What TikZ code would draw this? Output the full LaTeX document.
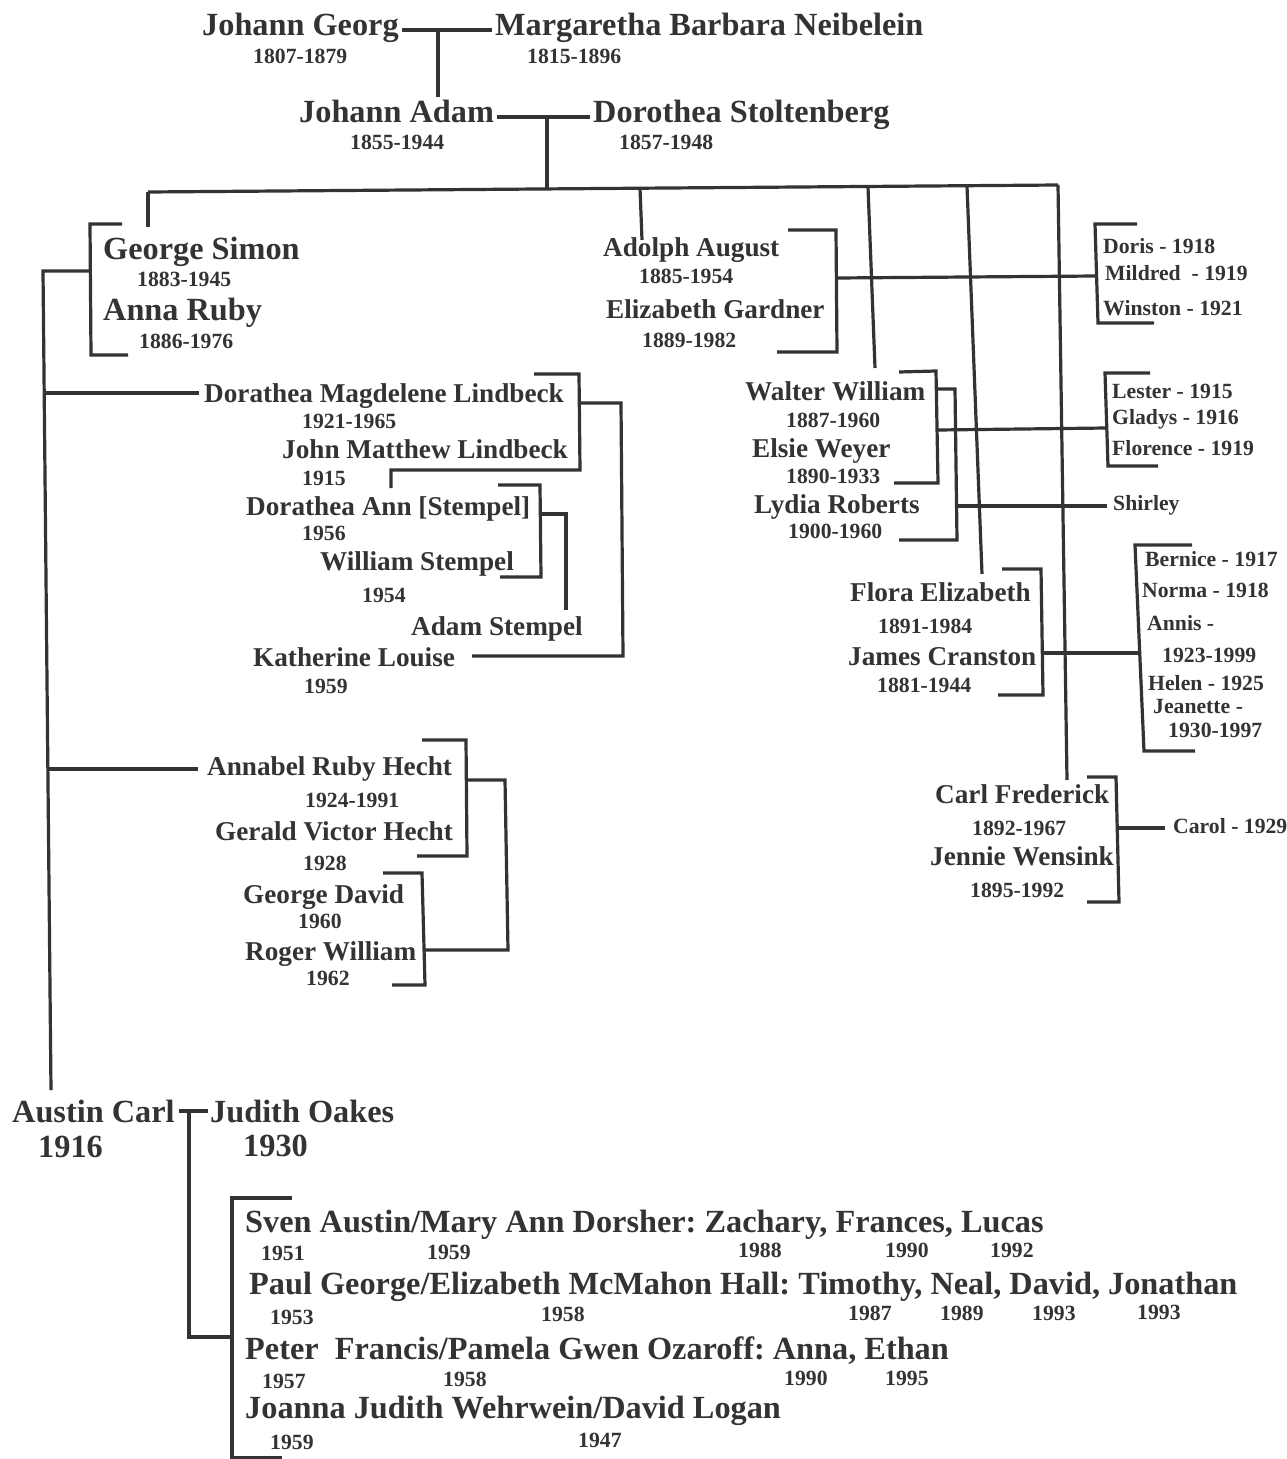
\documentclass[tikz,border=0pt]{standalone}
\usepackage{fontspec}
\setmainfont{Liberation Serif}
\frenchspacing
\definecolor{ink}{HTML}{333333}
\tikzset{
  nm/.style={font=\bfseries\fontsize{32.3}{38}\selectfont, anchor=base west, inner sep=0pt, text=ink},
  md/.style={font=\bfseries\fontsize{27.2}{32}\selectfont, anchor=base west, inner sep=0pt, text=ink},
  sm/.style={font=\bfseries\fontsize{21.7}{26}\selectfont, anchor=base west, inner sep=0pt, text=ink},
  ln/.style={draw=ink, line width=3.2pt, line join=miter}
}
\begin{document}
\begin{tikzpicture}[x=1pt,y=-1pt]
\useasboundingbox (0,0) rectangle (1287,1459);
\fill[white] (0,0) rectangle (1287,1459);

% ---------- generation 1 and 2 ----------
\node[nm] (jg) at (202,35) {Johann Georg};
\node[sm] (jgd) at (253,63) {1807-1879};
\node[nm] (mbn) at (495,35) {Margaretha Barbara Neibelein};
\node[sm] (mbnd) at (527,63) {1815-1896};
\node[nm] (ja) at (299,122) {Johann Adam};
\node[sm] (jad) at (350,149) {1855-1944};
\node[nm] (ds) at (593,122) {Dorothea Stoltenberg};
\node[sm] (dsd) at (619,149) {1857-1948};

% ---------- generation 3 ----------
\node[nm] (gs) at (103,259) {George Simon};
\node[sm] (gsd) at (137,286) {1883-1945};
\node[nm] (ar) at (103,320) {Anna Ruby};
\node[sm] (ard) at (139,348) {1886-1976};

\node[md] (aa) at (603,256) {Adolph August};
\node[sm] (aad) at (639,283) {1885-1954};
\node[md] (eg) at (606,318) {Elizabeth Gardner};
\node[sm] (egd) at (642,347) {1889-1982};
\node[sm] (doris) at (1103,253) {Doris - 1918};
\node[sm] (mildred) at (1105,280) {Mildred~~- 1919};
\node[sm] (winston) at (1103,315) {Winston - 1921};

\node[md] (ww) at (745,400) {Walter William};
\node[sm] (wwd) at (786,427) {1887-1960};
\node[md] (ew) at (752,457) {Elsie Weyer};
\node[sm] (ewd) at (786,483) {1890-1933};
\node[md] (lr) at (754,513) {Lydia Roberts};
\node[sm] (lrd) at (788,538) {1900-1960};
\node[sm] (lester) at (1112,398) {Lester - 1915};
\node[sm] (gladys) at (1112,424) {Gladys - 1916};
\node[sm] (florence) at (1112,455) {Florence - 1919};
\node[sm] (shirley) at (1113,510) {Shirley};

\node[md] (fe) at (850,601) {Flora Elizabeth};
\node[sm] (fed) at (878,633) {1891-1984};
\node[md] (jc) at (848,665) {James Cranston};
\node[sm] (jcd) at (877,692) {1881-1944};
\node[sm] (bernice) at (1145,566) {Bernice - 1917};
\node[sm] (norma) at (1142,597) {Norma - 1918};
\node[sm] (annis) at (1147,630) {Annis -};
\node[sm] (annisd) at (1162,662) {1923-1999};
\node[sm] (helen) at (1148,690) {Helen - 1925};
\node[sm] (jeanette) at (1153,713) {Jeanette -};
\node[sm] (jeanetted) at (1168,737) {1930-1997};

\node[md] (cf) at (935,803) {Carl Frederick};
\node[sm] (cfd) at (972,835) {1892-1967};
\node[md] (jw) at (930,865) {Jennie Wensink};
\node[sm] (jwd) at (970,897) {1895-1992};
\node[sm] (carol) at (1173,833) {Carol - 1929};

% ---------- George Simon's descendants ----------
\node[md] (dml) at (204,402) {Dorathea Magdelene Lindbeck};
\node[sm] (dmld) at (302,428) {1921-1965};
\node[md] (jml) at (282,458) {John Matthew Lindbeck};
\node[sm] (jmld) at (302,485) {1915};
\node[md] (das) at (246,515) {Dorathea Ann [Stempel]};
\node[sm] (dasd) at (302,540) {1956};
\node[md] (ws) at (320,570) {William Stempel};
\node[sm] (wsd) at (362,602) {1954};
\node[md] (as) at (411,635) {Adam Stempel};
\node[md] (kl) at (253,666) {Katherine Louise};
\node[sm] (kld) at (304,693) {1959};

\node[md] (arh) at (207,775) {Annabel Ruby Hecht};
\node[sm] (arhd) at (305,807) {1924-1991};
\node[md] (gvh) at (215,840) {Gerald Victor Hecht};
\node[sm] (gvhd) at (303,870) {1928};
\node[md] (gd) at (243,903) {George David};
\node[sm] (gdd) at (298,928) {1960};
\node[md] (rw) at (245,960) {Roger William};
\node[sm] (rwd) at (306,985) {1962};

\node[nm] (ac) at (12,1122) {Austin Carl};
\node[nm] (acd) at (38,1157) {1916};
\node[nm] (jo) at (210,1122) {Judith Oakes};
\node[nm] (jod) at (243,1156) {1930};

\node[nm] (sven) at (245,1232) {Sven Austin/Mary Ann Dorsher: Zachary, Frances, Lucas};
\node[sm] (d1a) at (261,1260) {1951};
\node[sm] (d1b) at (427,1259) {1959};
\node[sm] (d1c) at (738,1257) {1988};
\node[sm] (d1d) at (885,1257) {1990};
\node[sm] (d1e) at (990,1257) {1992};
\node[nm] (paul) at (249,1294) {Paul George/Elizabeth McMahon Hall: Timothy, Neal, David, Jonathan};
\node[sm] (d2a) at (270,1324) {1953};
\node[sm] (d2b) at (541,1321) {1958};
\node[sm] (d2c) at (848,1320) {1987};
\node[sm] (d2d) at (940,1320) {1989};
\node[sm] (d2e) at (1032,1320) {1993};
\node[sm] (d2f) at (1137,1319) {1993};
\node[nm] (peter) at (245,1359) {Peter~~Francis/Pamela Gwen Ozaroff: Anna, Ethan};
\node[sm] (d3a) at (262,1388) {1957};
\node[sm] (d3b) at (443,1386) {1958};
\node[sm] (d3c) at (784,1385) {1990};
\node[sm] (d3d) at (885,1385) {1995};
\node[nm] (joanna) at (245,1418) {Joanna Judith Wehrwein/David Logan};
\node[sm] (d4a) at (270,1449) {1959};
\node[sm] (d4b) at (578,1447) {1947};

% ---------- coordinates ----------
\coordinate (m1) at (438,30);
\coordinate (m1d) at (438,97);
\coordinate (m2) at (547,117);
\coordinate (m2d) at (547,189);
\coordinate (tbl) at (148,192);
\coordinate (tbr) at (1058,185);
\coordinate (gsT) at (148,227);
\coordinate (aaA) at (640,188);
\coordinate (aaB) at (642,240);
\coordinate (wwA) at (868,187);
\coordinate (wwB) at (875,368);
\coordinate (feA) at (967,186);
\coordinate (feB) at (982,574);
\coordinate (cfB) at (1067,780);
\coordinate (spT) at (43,271);
\coordinate (spB) at (51,1090);
\coordinate (br1) at (44,393);
\coordinate (br2) at (48,769);
\coordinate (klc) at (623,656);
\coordinate (shc) at (956,506);
\coordinate (crc) at (1119,828);
\coordinate (m3) at (189,1111);

% ---------- connectors ----------
\draw[ln, shorten <=3pt, shorten >=3pt] (jg.east |- m1) -- (mbn.west |- m1);
\draw[ln] (m1) -- (m1d);
\draw[ln, shorten <=3pt, shorten >=3pt] (ja.east |- m2) -- (ds.west |- m2);
\draw[ln] (m2) -- (m2d);
\draw[ln] (tbl) -- (tbr);
\draw[ln] (tbl) -- (gsT);
\draw[ln] (aaA) -- (aaB);
\draw[ln] (wwA) -- (wwB);
\draw[ln] (feA) -- (feB);
\draw[ln] (tbr) -- (cfB);

% George Simon / Anna Ruby bracket and spine
\draw[ln] (122,224) -- (90,224) -- (91,355) -- (128,355);
\draw[ln] (90,271) -- (spT) -- (spB);
\draw[ln, shorten >=5pt] (br1) -- (dml.west |- br1);
\draw[ln, shorten >=9pt] (br2) -- (arh.west |- br2);

% Lindbeck
\draw[ln] (534,374) -- (579,374) -- (580,470) -- (391,470) -- (391,488);
\draw[ln, shorten >=17pt] (580,403) -- (621,403) -- (klc) -- (kl.east |- klc);
\draw[ln] (498,485) -- (540,485) -- (541,577) -- (500,577);
\draw[ln] (540,514) -- (566,514) -- (566,610);

% Hecht
\draw[ln] (422,740) -- (466,740) -- (467,856) -- (417,856);
\draw[ln] (467,780) -- (505,780) -- (508,950) -- (425,950);
\draw[ln] (383,873) -- (422,873) -- (425,985) -- (392,985);

% Adolph August
\draw[ln] (788,230) -- (836,230) -- (837,352) -- (777,352);
\draw[ln] (837,278) -- (1096,276);
\draw[ln] (1137,224) -- (1095,224) -- (1098,323) -- (1154,323);

% Walter William
\draw[ln] (899,372) -- (936,371) -- (938,483) -- (894,483);
\draw[ln] (938,430) -- (1106,428);
\draw[ln] (1150,373) -- (1105,373) -- (1108,466) -- (1158,466);
\draw[ln] (937,389) -- (955,389) -- (957,540) -- (899,540);
\draw[ln, shorten >=6pt] (shc) -- (shirley.west |- shc);

% Flora Elizabeth
\draw[ln] (1002,569) -- (1041,569) -- (1043,695) -- (998,695);
\draw[ln] (1042,653) -- (1140,653);
\draw[ln] (1192,545) -- (1135,545) -- (1144,751) -- (1195,751);

% Carl Frederick
\draw[ln] (1087,777) -- (1116,777) -- (1119,902) -- (1087,902);
\draw[ln, shorten >=8pt] (crc) -- (carol.west |- crc);

% Austin Carl
\draw[ln, shorten <=4pt, shorten >=2pt] (ac.east |- m3) -- (jo.west |- m3);
\draw[ln] (m3) -- (189,1337) -- (232,1337);
\draw[ln] (292,1198) -- (232,1198) -- (232,1458) -- (282,1458);
\end{tikzpicture}
\end{document}
